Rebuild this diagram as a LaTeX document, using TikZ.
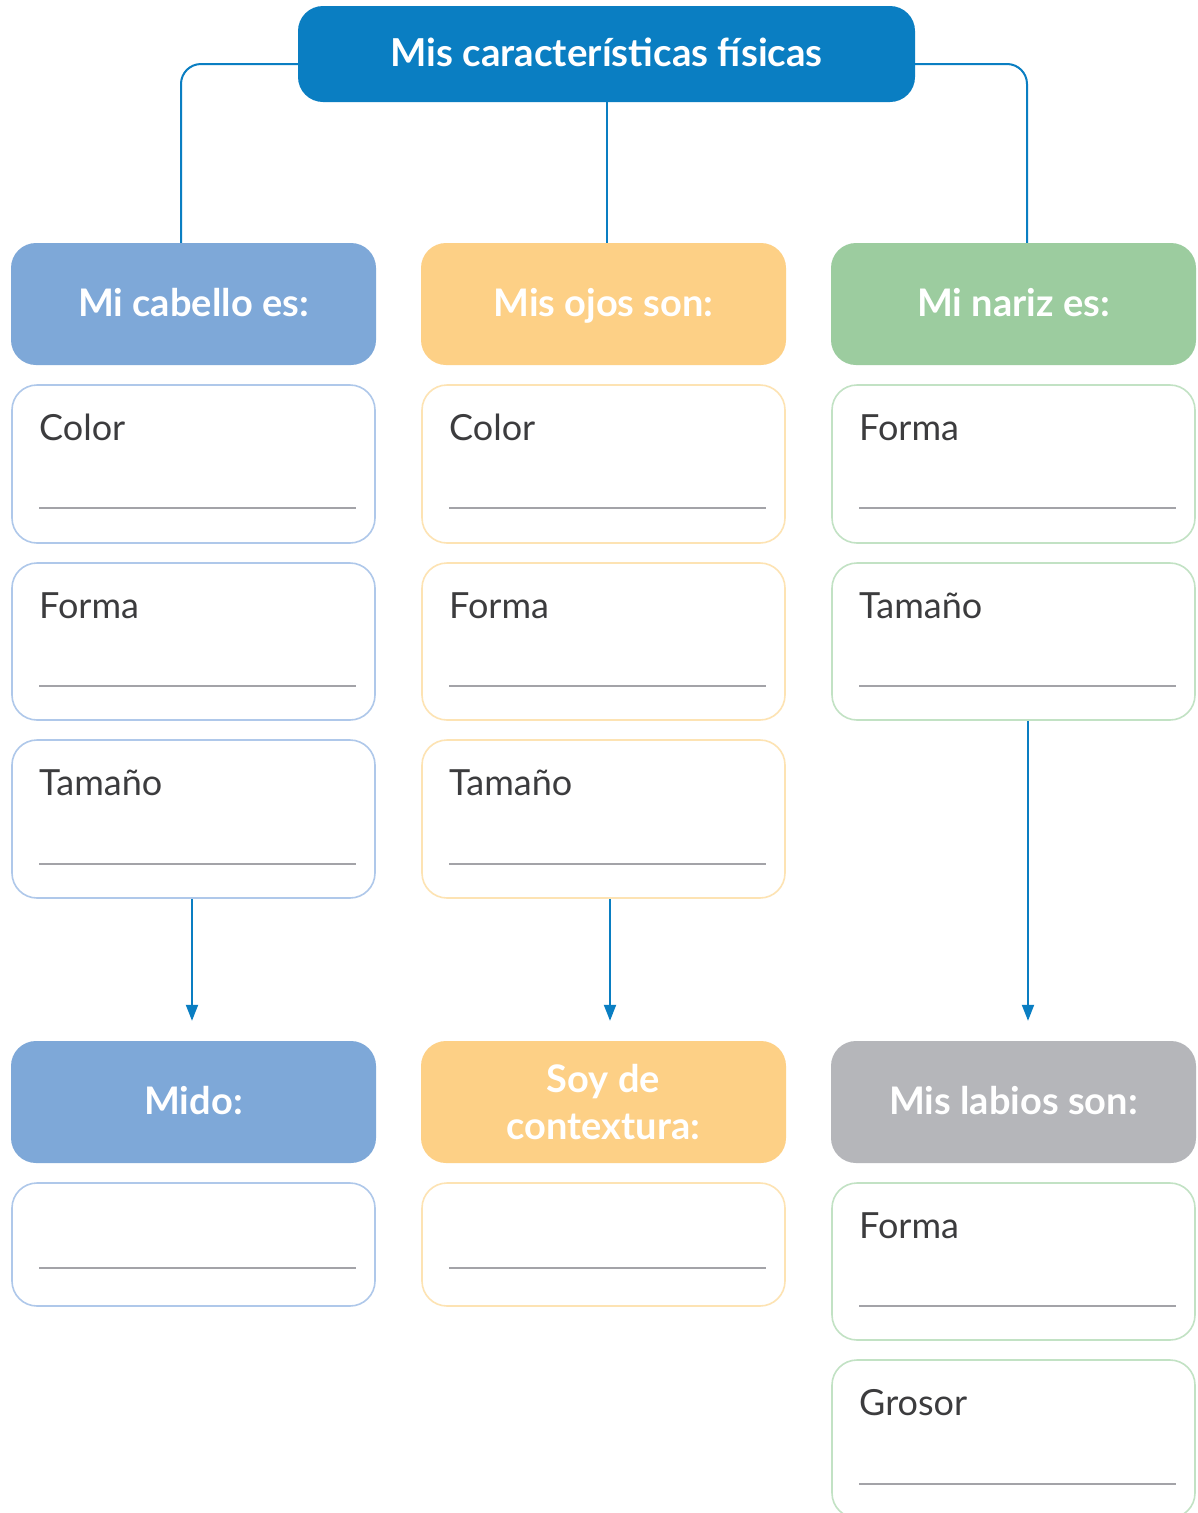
\documentclass[tikz,border=0pt]{standalone}
\usepackage{fontspec}
\setmainfont{Lato}
\usetikzlibrary{arrows.meta}
\definecolor{titleblue}{HTML}{0A7EC2}
\definecolor{hblue}{HTML}{7EA8D8}
\definecolor{hyellow}{HTML}{FDD086}
\definecolor{hgreen}{HTML}{9CCC9F}
\definecolor{hgray}{HTML}{B5B6BA}
\definecolor{bblue}{HTML}{AFC8EA}
\definecolor{byellow}{HTML}{FDE3B3}
\definecolor{bgreen}{HTML}{C2E2C4}
\definecolor{txtgray}{HTML}{3C3C3E}
\definecolor{linegray}{HTML}{A3A3A8}
\tikzset{
  headbox/.style={rounded corners=25pt, minimum width=365pt, minimum height=122pt, inner sep=0pt,
    text=white, font=\fontsize{38}{47}\selectfont\bfseries, align=center},
  oneline/.style={text height=28pt, text depth=4pt},
  subbox/.style={draw, line width=1.6pt, rounded corners=25pt, minimum width=363pt, inner sep=0pt, fill=white},
  sublabel/.style={anchor=base west, inner sep=0pt, text=txtgray, font=\fontsize{36}{44}\selectfont},
  writeline/.style={draw=linegray, line width=1.8pt},
  conn/.style={draw=titleblue, line width=2pt},
  arr/.style={conn, -{Triangle[length=16pt,width=12pt]}}
}
\newcommand{\mysub}[7]{%
  % name, x-center, ytop, ybottom, color, label, line offset from bottom
  \node[subbox, draw=#5, minimum height={#4-#3}] (#1) at (#2,{(#3+#4)/2}) {};
  \node[sublabel] (#1l) at ({#2-154.5},{#3+55}) {#6};
  \draw[writeline] ({#2-154.5},{#4-#7}) -- ({#2+162.5},{#4-#7});
}
\begin{document}
\begin{tikzpicture}[x=1pt,y=-1pt]
\useasboundingbox (0,0) rectangle (1198,1513);
\fill[white] (0,0) rectangle (1198,1513);
% title
\node[rounded corners=25pt, fill=titleblue, minimum width=617pt, minimum height=96pt, inner sep=0pt,
  text=white, font=\fontsize{38.5}{46}\selectfont\bfseries, text height=28pt, text depth=4pt] (title) at (606.5,54) {Mis características físicas};
% headers
\node[headbox, oneline, fill=hblue] (h1) at (193.5,304) {Mi cabello es:};
\node[headbox, oneline, fill=hyellow] (h2) at (603.5,304) {Mis ojos son:};
\node[headbox, oneline, fill=hgreen] (h3) at (1013.5,304) {Mi nariz es:};
% column 1
\mysub{a1}{193.5}{385}{543}{bblue}{Color}{35}
\mysub{a2}{193.5}{563}{720}{bblue}{Forma}{34}
\mysub{a3}{193.5}{740}{898}{bblue}{Tamaño}{34}
% column 2
\mysub{b1}{603.5}{385}{543}{byellow}{Color}{35}
\mysub{b2}{603.5}{563}{720}{byellow}{Forma}{34}
\mysub{b3}{603.5}{740}{898}{byellow}{Tamaño}{34}
% column 3
\mysub{c1}{1013.5}{385}{543}{bgreen}{Forma}{35}
\mysub{c2}{1013.5}{563}{720}{bgreen}{Tamaño}{34}
% lower headers
\node[headbox, oneline, fill=hblue] (m1) at (193.5,1102) {Mido:};
\node[headbox, fill=hyellow] (m2) at (603.5,1102) {Soy de\\contextura:};
\node[headbox, oneline, fill=hgray] (m3) at (1013.5,1102) {Mis labios son:};
% lower boxes
\mysub{d1}{193.5}{1183}{1306}{bblue}{}{38}
\mysub{e1}{603.5}{1183}{1306}{byellow}{}{38}
\mysub{f1}{1013.5}{1183}{1340}{bgreen}{Forma}{34}
\mysub{f2}{1013.5}{1360}{1518}{bgreen}{Grosor}{34}
% connectors
\draw[conn, rounded corners=20pt] ([yshift=-10pt]title.west) -| ([xshift=-12.5pt]h1.north);
\draw[conn, rounded corners=20pt] ([yshift=-10pt]title.east) -| ([xshift=13.5pt]h3.north);
\draw[conn] (title.south) -- (h2.north -| title.south);
\draw[arr] ([xshift=-1.5pt]a3.south) -- ([xshift=-1.5pt,yshift=20pt]m1.north);
\draw[arr] ([xshift=6.5pt]b3.south) -- ([xshift=6.5pt,yshift=20pt]m2.north);
\draw[arr] ([xshift=14.5pt]c2.south) -- ([xshift=14.5pt,yshift=20pt]m3.north);
\end{tikzpicture}
\end{document}
